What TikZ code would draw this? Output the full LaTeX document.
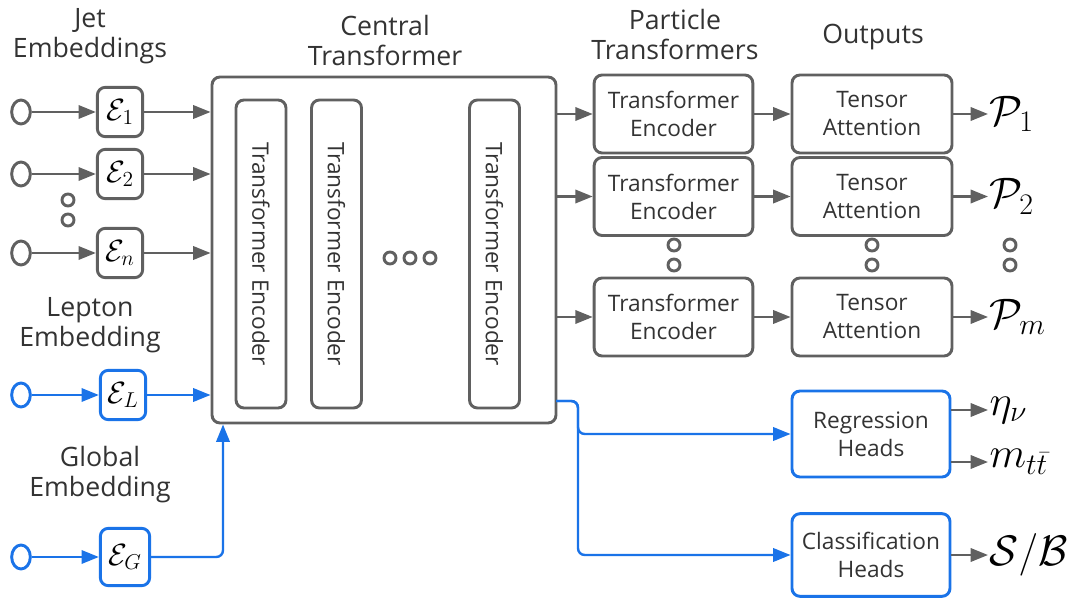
\documentclass[tikz,border=0pt]{standalone}
\usepackage{fix-cm}
\usepackage{fontspec}
\setmainfont{Open Sans}
\usetikzlibrary{arrows.meta,shapes.geometric}
\definecolor{lgray}{RGB}{96,96,96}
\definecolor{lblue}{RGB}{26,115,232}
\definecolor{ltext}{RGB}{51,51,51}
\begin{document}
\begin{tikzpicture}[x=0.75pt,y=-0.75pt,line join=round,
  >={Triangle[length=13pt,width=10pt]},
  box/.style={draw=lgray,line width=2.2pt,rounded corners=6pt,text=ltext,align=center,inner sep=0pt,font=\fontsize{17}{21}\selectfont},
  bbox/.style={box,draw=lblue},
  emb/.style={box,minimum width=34pt,minimum height=37pt,text=black,font=\fontsize{23}{24}\selectfont},
  inp/.style={draw=lgray,ellipse,line width=2.2pt,minimum width=14pt,minimum height=18pt,inner sep=0pt},
  ttl/.style={text=ltext,align=center,font=\fontsize{20}{22.5}\selectfont},
  arr/.style={->,lgray,line width=1.8pt},
  barr/.style={->,lblue,line width=1.8pt},
  dot/.style={lgray,line width=2.2pt},
  outl/.style={anchor=west,inner sep=1pt,font=\fontsize{32}{32}\selectfont}]
\useasboundingbox (0,0) rectangle (1079,599);
% titles
\node[ttl] (tjet) at (90,36) {Jet\\Embeddings};
\node[ttl] (tlep) at (90,325) {Lepton\\Embedding};
\node[ttl] (tglb) at (100,475) {Global\\Embedding};
\node[ttl] (tcen) at (385,41) {Central\\Transformer};
\node[ttl] (tpar) at (675,35) {Particle\\Transformers};
\node[ttl] (tout) at (873,37) {Outputs};
% central transformer
\node[box,minimum width=258pt,minimum height=259.5pt] (cen) at (384,250) {};
\foreach \x/\n in {261/1,336.5/2,494.5/3}
  \node[box,rotate=-90,minimum width=231pt,minimum height=37.5pt] (enc\n) at (\x,254) {Transformer Encoder};
% jet embeddings
\foreach \y/\n/\s in {112/1/1,174/2/2,253/3/n}{
  \node[inp] (in\n) at (21,\y) {};
  \node[emb] (je\n) at (120,\y) {$\mathcal{E}_\s$};
  \draw[arr] (in\n) -- (je\n);
  \draw[arr] (je\n) -- (je\n -| cen.west);
}
% lepton and global
\node[inp,draw=lblue] (inl) at (21,395) {};
\node[emb,draw=lblue] (el) at (123,395) {$\mathcal{E}_L$};
\draw[barr] (inl) -- (el);
\draw[barr] (el) -- (el -| cen.west);
\node[inp,draw=lblue] (ing) at (21,557) {};
\node[emb,draw=lblue,minimum width=37pt,minimum height=43pt] (eg) at (125,557) {$\mathcal{E}_G$};
\coordinate (gin) at (223,0);
\draw[barr] (ing) -- (eg);
\draw[barr,rounded corners=5pt] (eg) -| (gin |- cen.south);
% particle transformers
\foreach \y/\n/\s in {114/1/1,196.5/2/2,317/3/m}{
  \node[box,minimum width=119pt,minimum height=58.5pt] (te\n) at (673.5,\y) {Transformer\\Encoder};
  \node[box,minimum width=120pt,minimum height=58.5pt] (ta\n) at (872,\y) {Tensor\\Attention};
  \node[outl] (p\n) at (988,\y) {$\mathcal{P}_\s$};
  \draw[arr] (te\n.west -| cen.east) -- (te\n);
  \draw[arr] (te\n) -- (ta\n);
  \draw[arr] (ta\n) -- (p\n);
}
% heads
\node[bbox,minimum width=118.5pt,minimum height=64.5pt] (reg) at (871,434) {Regression\\Heads};
\node[bbox,minimum width=118.5pt,minimum height=62pt] (cls) at (871,555) {Classification\\Heads};
\coordinate (bout) at (556,401);
\coordinate (bsplit) at (578,401);
\draw[barr,rounded corners=5pt] (bout) -- (bsplit) |- (reg);
\draw[barr,rounded corners=5pt] (bout) -- (bsplit) |- (cls);
\node[outl] (eta) at (988,410) {$\eta_\nu$};
\node[outl] (mtt) at (988,462) {$m_{t\bar{t}}$};
\node[outl] (sb) at (988,555) {$\mathcal{S}/\mathcal{B}$};
\draw[arr] (eta -| reg.east) -- (eta);
\draw[arr] (mtt -| reg.east) -- (mtt);
\draw[arr] (cls) -- (sb);
% dots
\foreach \x in {390,410,430} \draw[dot] (\x,258) circle[radius=4.5pt];
\foreach \x/\y in {68/200,68/220,674/245,674/265,872/245,872/265,1010/245,1010/265}
  \draw[dot] (\x,\y) circle[radius=4.5pt];
\end{tikzpicture}
\end{document}
